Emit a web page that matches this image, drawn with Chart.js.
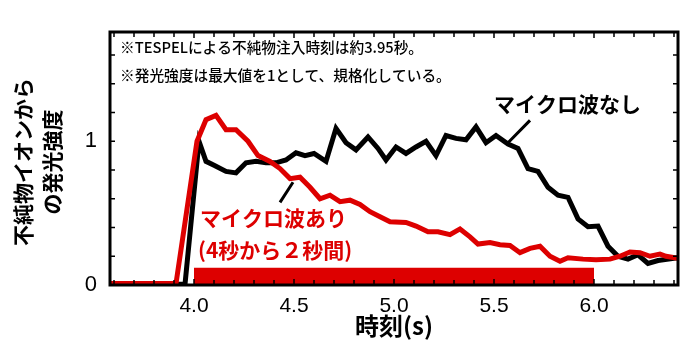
<!DOCTYPE html>
<html>
<head>
<meta charset="utf-8">
<script src="https://cdn.jsdelivr.net/npm/chart.js@4"></script>
<style>
  body { margin: 0; background: #fff; }
  #wrap { width: 700px; height: 350px; }
</style>
</head>
<body>
<div id="wrap"><canvas id="myChart" width="700" height="350"></canvas></div>
<script>
// マイクロ波なし（黒）
const timeOff = [3.58, 3.955, 4.025, 4.06, 4.105, 4.16, 4.21, 4.26, 4.31, 4.36, 4.41, 4.46, 4.51, 4.555, 4.60, 4.66, 4.71, 4.76, 4.81, 4.87, 4.92, 4.96, 5.01, 5.06, 5.11, 5.16, 5.21, 5.26, 5.31, 5.36, 5.41, 5.46, 5.51, 5.57, 5.62, 5.67, 5.72, 5.77, 5.82, 5.87, 5.92, 5.97, 6.02, 6.07, 6.12, 6.17, 6.22, 6.27, 6.32, 6.42];
const valueOff = [0.005, 0.005, 1.0, 0.86, 0.83, 0.79, 0.78, 0.85, 0.86, 0.85, 0.85, 0.87, 0.92, 0.90, 0.915, 0.86, 1.09, 0.99, 0.94, 1.03, 0.95, 0.87, 0.96, 0.915, 0.96, 1.0, 0.90, 1.04, 1.02, 1.01, 1.10, 0.99, 1.04, 0.98, 0.95, 0.81, 0.79, 0.68, 0.625, 0.61, 0.46, 0.405, 0.41, 0.27, 0.20, 0.18, 0.21, 0.15, 0.17, 0.19];

// マイクロ波あり（赤）
const timeOn = [3.58, 3.91, 4.015, 4.06, 4.11, 4.16, 4.21, 4.27, 4.32, 4.38, 4.43, 4.48, 4.53, 4.58, 4.63, 4.68, 4.73, 4.78, 4.83, 4.88, 4.93, 4.98, 5.06, 5.11, 5.17, 5.22, 5.28, 5.33, 5.38, 5.42, 5.48, 5.53, 5.58, 5.63, 5.68, 5.73, 5.78, 5.83, 5.87, 5.945, 6.01, 6.08, 6.13, 6.18, 6.23, 6.28, 6.33, 6.36, 6.42];
const valueOn = [0.01, 0.01, 1.0, 1.15, 1.18, 1.08, 1.08, 1.0, 0.90, 0.86, 0.81, 0.74, 0.75, 0.68, 0.60, 0.625, 0.58, 0.59, 0.56, 0.51, 0.475, 0.44, 0.435, 0.41, 0.37, 0.37, 0.35, 0.39, 0.335, 0.285, 0.295, 0.28, 0.275, 0.225, 0.255, 0.27, 0.20, 0.165, 0.19, 0.18, 0.175, 0.18, 0.20, 0.23, 0.225, 0.20, 0.215, 0.20, 0.185];

// マイクロ波入射期間（4秒から6秒）
const heatTime = [4.0, 6.0];
const heatLevel = [0.12, 0.12];

const xTicks = [4.0, 4.5, 5.0, 5.5, 6.0];
const yTicks = [0, 1];

const RED = '#dd0000';

function pairs(xs, ys) {
    return xs.map((x, i) => ({ x: x, y: ys[i] }));
}

// 枠と内向きの目盛り、注記を描く
const framePlugin = {
    id: 'frame',
    afterDatasetsDraw(chart) {
        const { ctx, chartArea: a, scales: { x, y } } = chart;
        ctx.save();
        ctx.strokeStyle = '#000';
        ctx.lineWidth = 1.5;
        ctx.beginPath();
        for (let i = 36; i <= 64; i++) {
            const px = x.getPixelForValue(i / 10);
            const len = i % 5 === 0 ? 6 : 5;
            ctx.moveTo(px, a.bottom); ctx.lineTo(px, a.bottom - len);
            ctx.moveTo(px, a.top); ctx.lineTo(px, a.top + len);
        }
        for (let i = 1; i <= 8; i++) {
            const py = y.getPixelForValue(i * 0.2);
            ctx.moveTo(a.left, py); ctx.lineTo(a.left + 5, py);
            ctx.moveTo(a.right, py); ctx.lineTo(a.right - 5, py);
        }
        ctx.stroke();
        ctx.lineWidth = 3;
        ctx.strokeRect(a.left, a.top, a.right - a.left, a.bottom - a.top);

        // 引き出し線
        ctx.lineWidth = 3;
        ctx.beginPath();
        ctx.moveTo(x.getPixelForValue(5.68), y.getPixelForValue(1.145));
        ctx.lineTo(x.getPixelForValue(5.57), y.getPixelForValue(0.99));
        ctx.moveTo(x.getPixelForValue(4.43), y.getPixelForValue(0.575));
        ctx.lineTo(x.getPixelForValue(4.495), y.getPixelForValue(0.715));
        ctx.stroke();

        // 注記
        ctx.textBaseline = 'middle';
        ctx.textAlign = 'left';
        ctx.fillStyle = '#000';
        ctx.font = '500 14.7px "Noto Sans CJK JP"';
        ctx.fillText('※TESPELによる不純物注入時刻は約3.95秒。', a.left + 10, 47);
        ctx.fillText('※発光強度は最大値を1として、規格化している。', a.left + 10, 75);

        ctx.font = 'bold 21px "Noto Sans CJK JP"';
        ctx.fillText('マイクロ波なし', 494, 104);
        ctx.fillStyle = RED;
        ctx.fillText('マイクロ波あり', 200, 218);
        ctx.fillText('(4秒から２秒間)', 198, 250);

        // 軸タイトル
        ctx.fillStyle = '#000';
        ctx.textAlign = 'center';
        ctx.font = 'bold 24px "Noto Sans CJK JP"';
        ctx.fillText('時刻(s)', (a.left + a.right) / 2, 326);
        ctx.translate(37, 162);
        ctx.rotate(-Math.PI / 2);
        ctx.font = 'bold 21px "Noto Sans CJK JP"';
        ctx.fillText('不純物イオンから', 0, -14);
        ctx.fillText('の発光強度', 0, 15);
        ctx.restore();
    }
};

const ctx = document.getElementById('myChart').getContext('2d');
new Chart(ctx, {
    type: 'line',
    data: {
        datasets: [
            {
                label: 'マイクロ波あり',
                data: pairs(timeOn, valueOn),
                borderColor: RED,
                borderWidth: 5,
                pointRadius: 0,
                tension: 0,
                order: 1
            },
            {
                label: 'マイクロ波なし',
                data: pairs(timeOff, valueOff),
                borderColor: '#000',
                borderWidth: 5,
                pointRadius: 0,
                tension: 0,
                order: 2
            },
            {
                label: '入射期間',
                data: pairs(heatTime, heatLevel),
                borderWidth: 0,
                backgroundColor: RED,
                fill: 'origin',
                pointRadius: 0,
                order: 3
            }
        ]
    },
    options: {
        responsive: false,
        animation: false,
        layout: { padding: { top: 32, right: 22, left: 0, bottom: 0 } },
        plugins: { legend: { display: false }, tooltip: { enabled: false } },
        scales: {
            x: {
                type: 'linear',
                min: 3.58,
                max: 6.42,
                grid: { display: false },
                border: { display: false },
                afterBuildTicks: s => { s.ticks = xTicks.map(v => ({ value: v })); },
                afterFit: s => { s.height = 65; },
                ticks: {
                    color: '#000',
                    padding: 1,
                    maxRotation: 0,
                    font: { family: '"Liberation Sans", Arial', size: 21 },
                    callback: v => v.toFixed(1)
                }
            },
            y: {
                min: 0,
                max: 1.76,
                grid: { display: false },
                border: { display: false },
                afterBuildTicks: s => { s.ticks = yTicks.map(v => ({ value: v })); },
                afterFit: s => { s.width = 110; },
                ticks: {
                    color: '#000',
                    padding: 5,
                    font: { family: '"Liberation Sans", Arial', size: 22 },
                    callback: v => String(v)
                }
            }
        }
    },
    plugins: [framePlugin]
});
</script>
</body>
</html>
